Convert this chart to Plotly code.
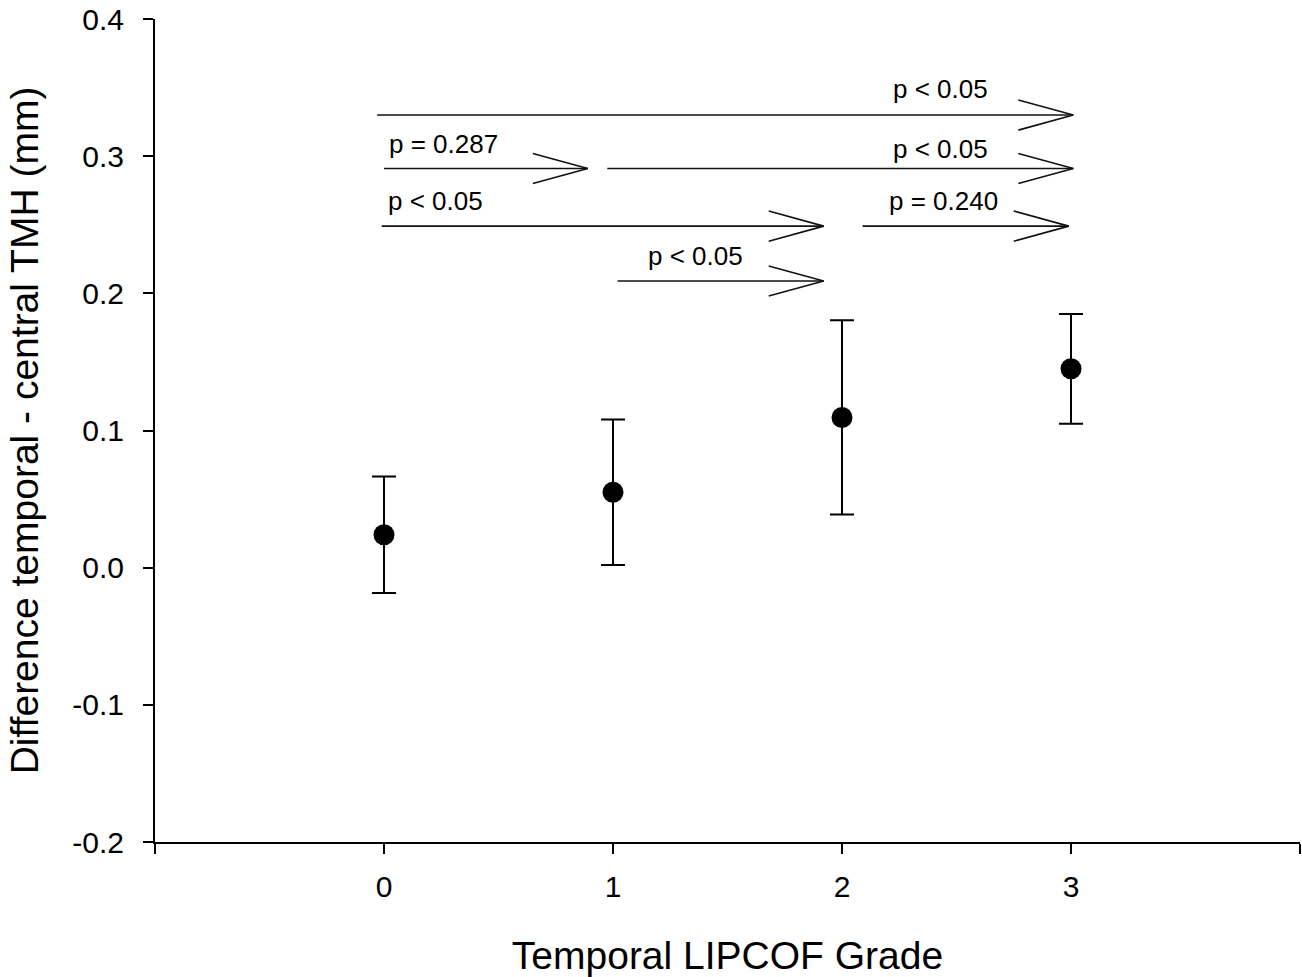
import plotly.graph_objects as go

# ---- data ----
grades = [0, 1, 2, 3]
mean_diff = [0.024, 0.055, 0.1095, 0.145]
err = [0.0425, 0.053, 0.0708, 0.040]

x_tickvals = [-1, 0, 1, 2, 3, 4]
x_ticktext = ["", "0", "1", "2", "3", ""]
y_tickvals = [-0.2, -0.1, 0.0, 0.1, 0.2, 0.3, 0.4]
y_ticktext = ["-0.2", "-0.1", "0.0", "0.1", "0.2", "0.3", "0.4"]

# comparison arrows
arrow_x0 = [-0.03, 0.0, 0.975, -0.01, 2.09, 1.02]
arrow_x1 = [3.01, 0.89, 3.01, 1.92, 2.99, 1.92]
arrow_y = [0.330, 0.291, 0.291, 0.249, 0.249, 0.209]
arrow_labels = ["p < 0.05", "p = 0.287", "p < 0.05", "p < 0.05", "p = 0.240", "p < 0.05"]
label_x = [2.43, 0.258, 2.43, 0.223, 2.445, 1.36]
label_shift = [9, 8, 3, 8, 8, 8]

FONT = "Liberation Sans, Arial, sans-serif"
HEAD_DX = 0.24
HEAD_DY = 0.011

fig = go.Figure()

# arrows
ax, ay = [], []
for x0, x1, y in zip(arrow_x0, arrow_x1, arrow_y):
    ax += [x0, x1, None, x1 - HEAD_DX, x1, x1 - HEAD_DX, None]
    ay += [y, y, None, y + HEAD_DY, y, y - HEAD_DY, None]
fig.add_trace(go.Scatter(x=ax, y=ay, mode="lines",
                         line=dict(color="#111111", width=1.6),
                         hoverinfo="skip", showlegend=False))

fig.add_trace(go.Scatter(
    x=grades, y=mean_diff, mode="markers",
    marker=dict(color="black", size=21),
    error_y=dict(type="data", array=err, visible=True, color="black",
                 thickness=2, width=12),
    showlegend=False))

for lx, y, txt, sh in zip(label_x, arrow_y, arrow_labels, label_shift):
    fig.add_annotation(x=lx, y=y, text=txt, showarrow=False,
                       xanchor="center", yanchor="bottom", yshift=sh,
                       font=dict(family=FONT, size=26, color="black"))

fig.update_layout(
    width=1302, height=977,
    margin=dict(l=155, r=2, t=17, b=135),
    paper_bgcolor="white", plot_bgcolor="white",
    font=dict(family=FONT, color="black"),
    xaxis=dict(range=[-1, 4], tickvals=x_tickvals, ticktext=x_ticktext,
               showgrid=False, zeroline=False, showline=True,
               linecolor="black", linewidth=2, ticks="outside",
               ticklen=10, tickwidth=2, tickcolor="black",
               tickfont=dict(family=FONT, size=30, color="black"),
               ticklabelstandoff=7,
               title=dict(text="Temporal LIPCOF Grade", standoff=41,
                          font=dict(family=FONT, size=39, color="black"))),
    yaxis=dict(range=[-0.2, 0.4], tickvals=y_tickvals, ticktext=y_ticktext,
               showgrid=False, zeroline=False, showline=True,
               linecolor="black", linewidth=2, ticks="outside",
               ticklen=10, tickwidth=2, tickcolor="black",
               tickfont=dict(family=FONT, size=30, color="black"),
               ticklabelstandoff=13,
               title=dict(text="Difference temporal - central TMH (mm)",
                          standoff=22,
                          font=dict(family=FONT, size=39, color="black"))),
)

fig.write_html("out.html")
